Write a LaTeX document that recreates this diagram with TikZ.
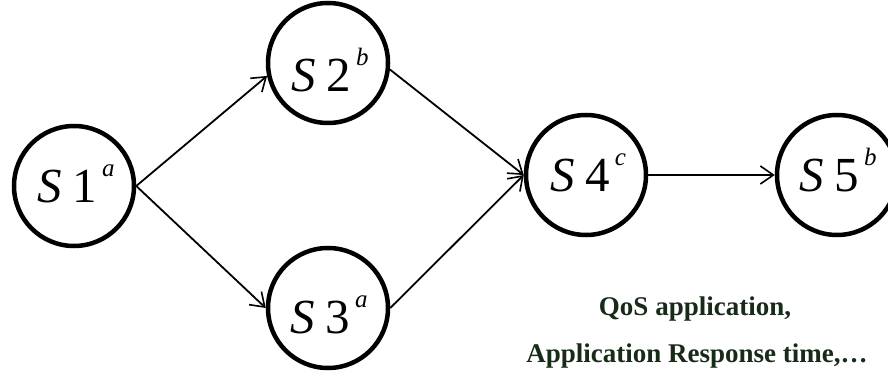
\documentclass[tikz,border=0pt]{standalone}
\usepackage{fontspec}
\setmainfont{Liberation Serif}
\usetikzlibrary{arrows.meta}
\definecolor{notegreen}{RGB}{24,42,24}
% service name: italic S, upright index, italic superscript tag
\newcommand{\svc}[2]{{\fontsize{49}{54}\selectfont\itshape S\upshape\hspace{0.22em}#1\raisebox{26pt}{\fontsize{25}{28}\selectfont\itshape\hspace{0.2em}#2}}}
\begin{document}
\begin{tikzpicture}[x=1pt,y=-1pt,
  state/.style={circle,draw,line width=4.5pt,minimum size=120pt,inner sep=0pt},
  tag/.style={anchor=base,inner sep=0pt},
  flow/.style={line width=1.8pt,-{Straight Barb[length=13pt,width=18pt,line width=1.6pt]}},
  note/.style={font=\fontsize{27}{30}\selectfont\bfseries,text=notegreen,anchor=base}]
\useasboundingbox (0,0) rectangle (888,371);
\node[state] (s1) at (74,186) {};
\node[state] (s2) at (328,63) {};
\node[state] (s3) at (328,308) {};
\node[state] (s4) at (586,175) {};
\node[state] (s5) at (837,175) {};
\node[tag] (t1) at (76,203) {\svc{1}{a}};
\node[tag] (t2) at (330,92) {\svc{2}{b}};
\node[tag] (t3) at (329,333) {\svc{3}{a}};
\node[tag] (t4) at (588,192) {\svc{4}{c}};
\node[tag] (t5) at (838,192) {\svc{5}{b}};
\draw[flow] (s1.east) -- (s2.192);
\draw[flow] (s1.east) -- (s3.west);
\draw[flow] (s2.-6) -- (s4.west);
\draw[flow] (s3.east) -- (s4.west);
\draw[flow] (s4.east) -- (s5.west);
\node[note] (n1) at (695,315) {QoS application,};
\node[note] (n2) at (697,362) {Application Response time,…};
\end{tikzpicture}
\end{document}
